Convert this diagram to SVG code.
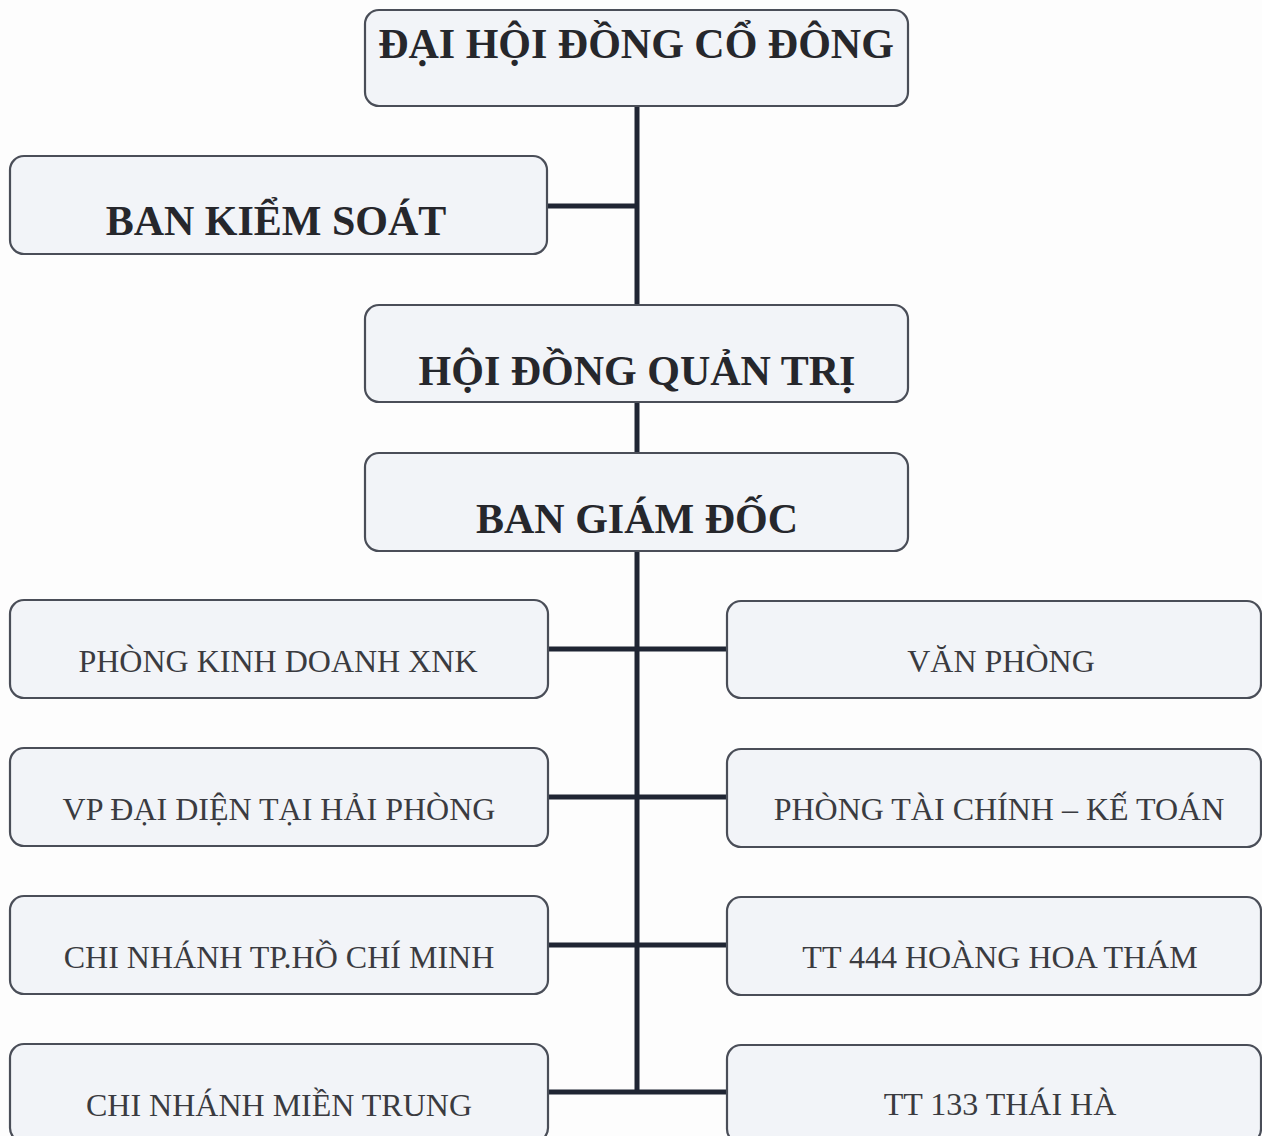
<svg xmlns="http://www.w3.org/2000/svg" width="1262" height="1136" viewBox="0 0 1262 1136">
<style>
.box{fill:#f2f4f8;stroke:#4a4e58;stroke-width:2.2}
.t{font-family:"Liberation Serif","Times New Roman",serif;text-anchor:middle;fill:#2b2c31}
.b{font-weight:bold;font-size:42px;fill:#26272c}
.r{font-size:32px;fill:#3a3b40}
.ln{stroke:#1f2533;stroke-width:5;fill:none}
</style>
<rect width="1262" height="1136" fill="#fdfdfd"/>
<g id="connectors">
<line class="ln" x1="637" y1="106" x2="637" y2="305"/>
<line class="ln" x1="637" y1="402" x2="637" y2="453"/>
<line class="ln" x1="637" y1="551" x2="637" y2="1094"/>
<line class="ln" x1="547" y1="206" x2="639" y2="206"/>
<line class="ln" x1="548" y1="649" x2="727" y2="649"/>
<line class="ln" x1="548" y1="797" x2="727" y2="797"/>
<line class="ln" x1="548" y1="945" x2="727" y2="945"/>
<line class="ln" x1="548" y1="1092" x2="727" y2="1092"/>
</g>
<g id="dhdcd"><rect class="box" x="365" y="10" width="543" height="96" rx="14"/><text class="t b" x="636" y="58">ĐẠI HỘI ĐỒNG CỔ ĐÔNG</text></g>
<g id="bks"><rect class="box" x="10" y="156" width="537" height="98" rx="14"/><text class="t b" x="276" y="235">BAN KIỂM SOÁT</text></g>
<g id="hdqt"><rect class="box" x="365" y="305" width="543" height="97" rx="14"/><text class="t b" x="637" y="385">HỘI ĐỒNG QUẢN TRỊ</text></g>
<g id="bgd"><rect class="box" x="365" y="453" width="543" height="98" rx="14"/><text class="t b" x="637" y="533">BAN GIÁM ĐỐC</text></g>
<g id="pkd"><rect class="box" x="10" y="600" width="538" height="98" rx="14"/><text class="t r" x="278" y="672">PHÒNG KINH DOANH XNK</text></g>
<g id="vpdd"><rect class="box" x="10" y="748" width="538" height="98" rx="14"/><text class="t r" x="279" y="820">VP ĐẠI DIỆN TẠI HẢI PHÒNG</text></g>
<g id="cnhcm"><rect class="box" x="10" y="896" width="538" height="98" rx="14"/><text class="t r" x="279" y="968">CHI NHÁNH TP.HỒ CHÍ MINH</text></g>
<g id="cnmt"><rect class="box" x="10" y="1044" width="538" height="98" rx="14"/><text class="t r" x="279" y="1116">CHI NHÁNH MIỀN TRUNG</text></g>
<g id="vp"><rect class="box" x="727" y="601" width="534" height="97" rx="14"/><text class="t r" x="1001" y="672">VĂN PHÒNG</text></g>
<g id="ptckt"><rect class="box" x="727" y="749" width="534" height="98" rx="14"/><text class="t r" x="999" y="820">PHÒNG TÀI CHÍNH – KẾ TOÁN</text></g>
<g id="tt444"><rect class="box" x="727" y="897" width="534" height="98" rx="14"/><text class="t r" x="1000" y="968">TT 444 HOÀNG HOA THÁM</text></g>
<g id="tt133"><rect class="box" x="727" y="1045" width="534" height="98" rx="14"/><text class="t r" x="1000" y="1115">TT 133 THÁI HÀ</text></g>
</svg>
